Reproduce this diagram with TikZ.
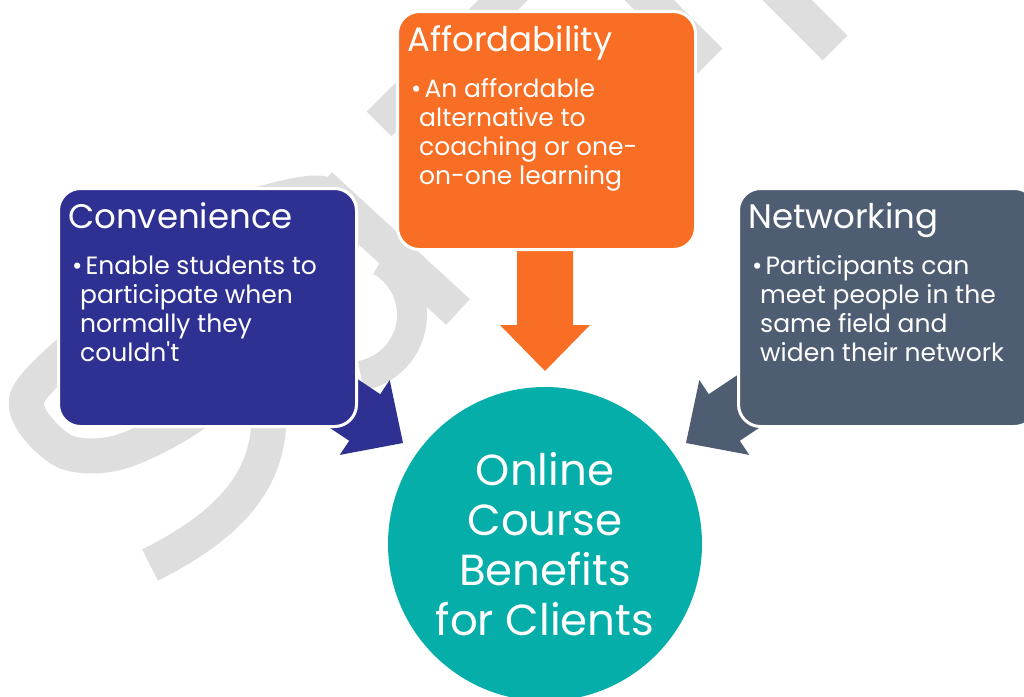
\documentclass[tikz,border=0pt]{standalone}
\usepackage{fontspec}
\setmainfont{Poppins}
\usetikzlibrary{calc}

\definecolor{convblue}{HTML}{2E3192}
\definecolor{affordorange}{HTML}{F86E24}
\definecolor{networkgray}{HTML}{4E5D72}
\definecolor{centerteal}{HTML}{05AEA8}
\definecolor{markgray}{HTML}{DEDEDE}

\begin{document}
\begin{tikzpicture}[x=1pt, y=-1pt]
		\def\boxw{298}
		\def\boxh{238}

		\tikzset{
			basic/.style={rectangle, rounded corners=22pt, draw=white, line width=3pt, inner sep=0pt},
			card/.style={basic, minimum width=\boxw pt, minimum height=\boxh pt, anchor=north west},
			cardtitle/.style={text=white, inner sep=0pt, anchor=base west, font=\fontsize{34}{36}\selectfont},
			cardtext/.style={text=white, inner sep=0pt, anchor=base west, align=left, font=\fontsize{25}{29}\selectfont},
			hub/.style={circle, fill=centerteal, minimum size=314pt, inner sep=0pt, text=white, align=center, font=\fontsize{43.5}{50}\selectfont},
			markband/.style={draw=markgray, line width=35pt},
			blockarrow/.pic={\fill (0,0) -- (-46,45) -- (-46,28) -- (-130,28) -- (-130,-28) -- (-46,-28) -- (-46,-45) -- cycle;}
		}

		\useasboundingbox (0,0) rectangle (1024,696);
		\clip (0,0) rectangle (1024,696);

		% watermark
		\draw[markband] (767,-20) -- (835,48);
		\draw[markband] (630,-19) -- (710,61);
		\draw[markband] (523,-20) -- (379,124);
		\draw[markband] (320,185) -- (458,312);
		\draw[markband] plot[smooth cycle] coordinates {(318,193) (210,225) (105,320) (27,398) (62,450) (120,452) (200,410) (290,320) (345,232)};
		\draw[markband, line width=30pt] (381,261) arc[start angle=-60, end angle=80, radius=62];
		\draw[markband] (268,400) .. controls (275,470) and (240,520) .. (150,565);

		% arrows into the hub
		\pic[rotate=-90, affordorange] (arrAfford) at (545,371) {blockarrow};
		\pic[rotate=-33.7, convblue] (arrConv) at (403,443) {blockarrow};
		\pic[rotate=-146.3, networkgray] (arrNet) at (686,443) {blockarrow};

		% cards
		\node[card, fill=convblue] (conv) at (57,187) {};
		\node[card, fill=affordorange] (afford) at (396,10) {};
		\node[card, fill=networkgray] (net) at (737,187) {};

		\node[cardtitle] (convT) at ($(conv.north west)+(11,41)$) {Convenience};
		\node[cardtitle] (affordT) at ($(afford.north west)+(11,41)$) {Affordability};
		\node[cardtitle] (netT) at ($(net.north west)+(11,41)$) {Networking};

		% bullet text, anchored at the last line
		\node[cardtext] (convB) at ($(conv.north west)+(15,174)$) {\textbullet\hspace{3pt}Enable students to\\ \hspace*{8pt}participate when\\ \hspace*{8pt}normally they\\ \hspace*{8pt}couldn\textquotesingle t};
		\node[cardtext] (affordB) at ($(afford.north west)+(15,174)$) {\textbullet\hspace{3pt}An affordable\\ \hspace*{8pt}alternative to\\ \hspace*{8pt}coaching or one-\\ \hspace*{8pt}on-one learning};
		\node[cardtext] (netB) at ($(net.north west)+(15,174)$) {\textbullet\hspace{3pt}Participants can\\ \hspace*{8pt}meet people in the\\ \hspace*{8pt}same field and\\ \hspace*{8pt}widen their network};

		% hub
		\node[hub] (hubC) at (545,544) {Online\\Course\\Benefits\\for Clients};
	\end{tikzpicture}
\end{document}
